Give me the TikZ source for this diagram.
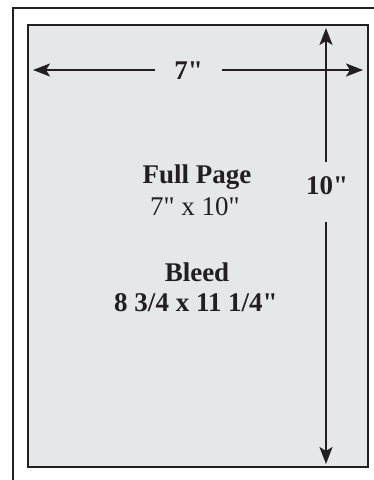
\documentclass[tikz,border=0pt]{standalone}
\usepackage{fontspec}
\setmainfont{Liberation Serif}[Ligatures=TeXOff]
\usetikzlibrary{arrows.meta}
\definecolor{ink}{HTML}{231F20}
\definecolor{paper}{HTML}{E6E7E8}
\tikzset{
  frame/.style={draw=ink, line width=2pt},
  trim/.style={draw=ink, line width=2.6pt, fill=paper},
  dim/.style={draw=ink, line width=2pt, -{Stealth[length=17pt, width=13pt, inset=4pt]}},
  lbl/.style={text=ink, font=\fontsize{27}{32}\selectfont, align=center, inner sep=0pt},
  blbl/.style={lbl, font=\fontsize{27}{32}\selectfont\bfseries}
}
\begin{document}
\begin{tikzpicture}[x=1pt, y=-1pt]
\useasboundingbox (0,0) rectangle (374,480);
\fill[white] (0,0) rectangle (374,480);
% outer frame (only top and left visible)
\draw[frame] (13,490) -- (13,8) -- (380,8);
% trim area
\path[trim] (28,25) rectangle (368,467);
% horizontal dimension
\coordinate (hl) at (33,70);
\coordinate (hr) at (363,70);
\coordinate (ha) at (155,70);
\coordinate (hb) at (222,70);
\node[blbl] (w) at (188.5,71) {7"};
\draw[dim] (ha) -- (hl);
\draw[dim] (hb) -- (hr);
% vertical dimension
\coordinate (vt) at (326,28);
\coordinate (vb) at (326,464);
\coordinate (va) at (326,162);
\coordinate (vc) at (326,222);
\node[blbl] (h) at (327,186) {10"};
\draw[dim] (va) -- (vt);
\draw[dim] (vc) -- (vb);
% centre texts
\node[blbl] (fp) at (197,177) {Full Page};
\node[lbl] (fs) at (195,207) {7" x 10"};
\node[blbl] (bl) at (197,272) {Bleed};
\node[blbl] (bs) at (196,303) {8 3/4 x 11 1/4"};
\end{tikzpicture}
\end{document}
